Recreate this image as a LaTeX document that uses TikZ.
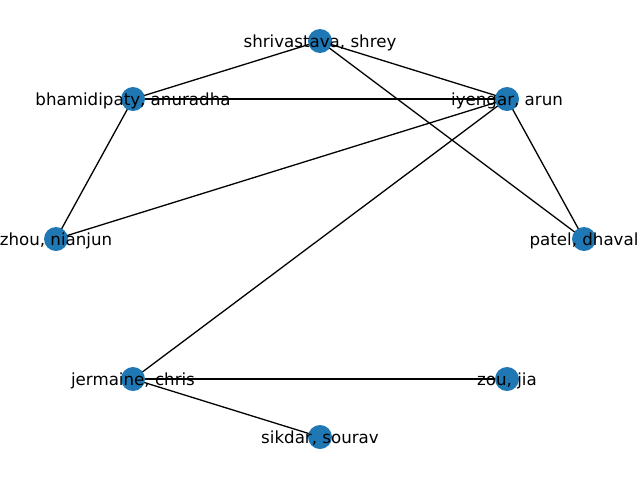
\documentclass[tikz,border=0pt]{standalone}
\usepackage{fontspec}
\setmainfont{DejaVu Sans}
\definecolor{tabblue}{HTML}{1F77B4}
\begin{document}
\begin{tikzpicture}[x=1pt,y=-1pt,
  vtx/.style={circle,fill=tabblue,inner sep=0pt,minimum size=24pt},
  lbl/.style={font=\fontsize{16.67}{20}\selectfont,inner sep=0pt,text=black,yshift=-1.5pt},
  edge/.style={line width=1.3pt,black}]
\useasboundingbox (0,0) rectangle (640,480);
\coordinate (shr) at (320,41);
\coordinate (bha) at (133,99);
\coordinate (iye) at (507,99);
\coordinate (zho) at (56,239);
\coordinate (pat) at (584,239);
\coordinate (jer) at (133,379);
\coordinate (zou) at (507,379);
\coordinate (sik) at (320,437);
\draw[edge] (shr) -- (bha);
\draw[edge] (shr) -- (iye);
\draw[edge] (shr) -- (pat);
\draw[edge] (bha) -- (iye);
\draw[edge] (bha) -- (zho);
\draw[edge] (iye) -- (zho);
\draw[edge] (iye) -- (pat);
\draw[edge] (iye) -- (jer);
\draw[edge] (jer) -- (zou);
\draw[edge] (jer) -- (sik);
\foreach \n in {shr,bha,iye,zho,pat,jer,zou,sik} \node[vtx] (v\n) at (\n) {};
\node[lbl] (tshr) at (shr) {shrivastava, shrey};
\node[lbl] (tbha) at (bha) {bhamidipaty, anuradha};
\node[lbl] (tiye) at (iye) {iyengar, arun};
\node[lbl] (tzho) at (zho) {zhou, nianjun};
\node[lbl] (tpat) at (pat) {patel, dhaval};
\node[lbl] (tjer) at (jer) {jermaine, chris};
\node[lbl] (tzou) at (zou) {zou, jia};
\node[lbl] (tsik) at (sik) {sikdar, sourav};
\end{tikzpicture}
\end{document}
